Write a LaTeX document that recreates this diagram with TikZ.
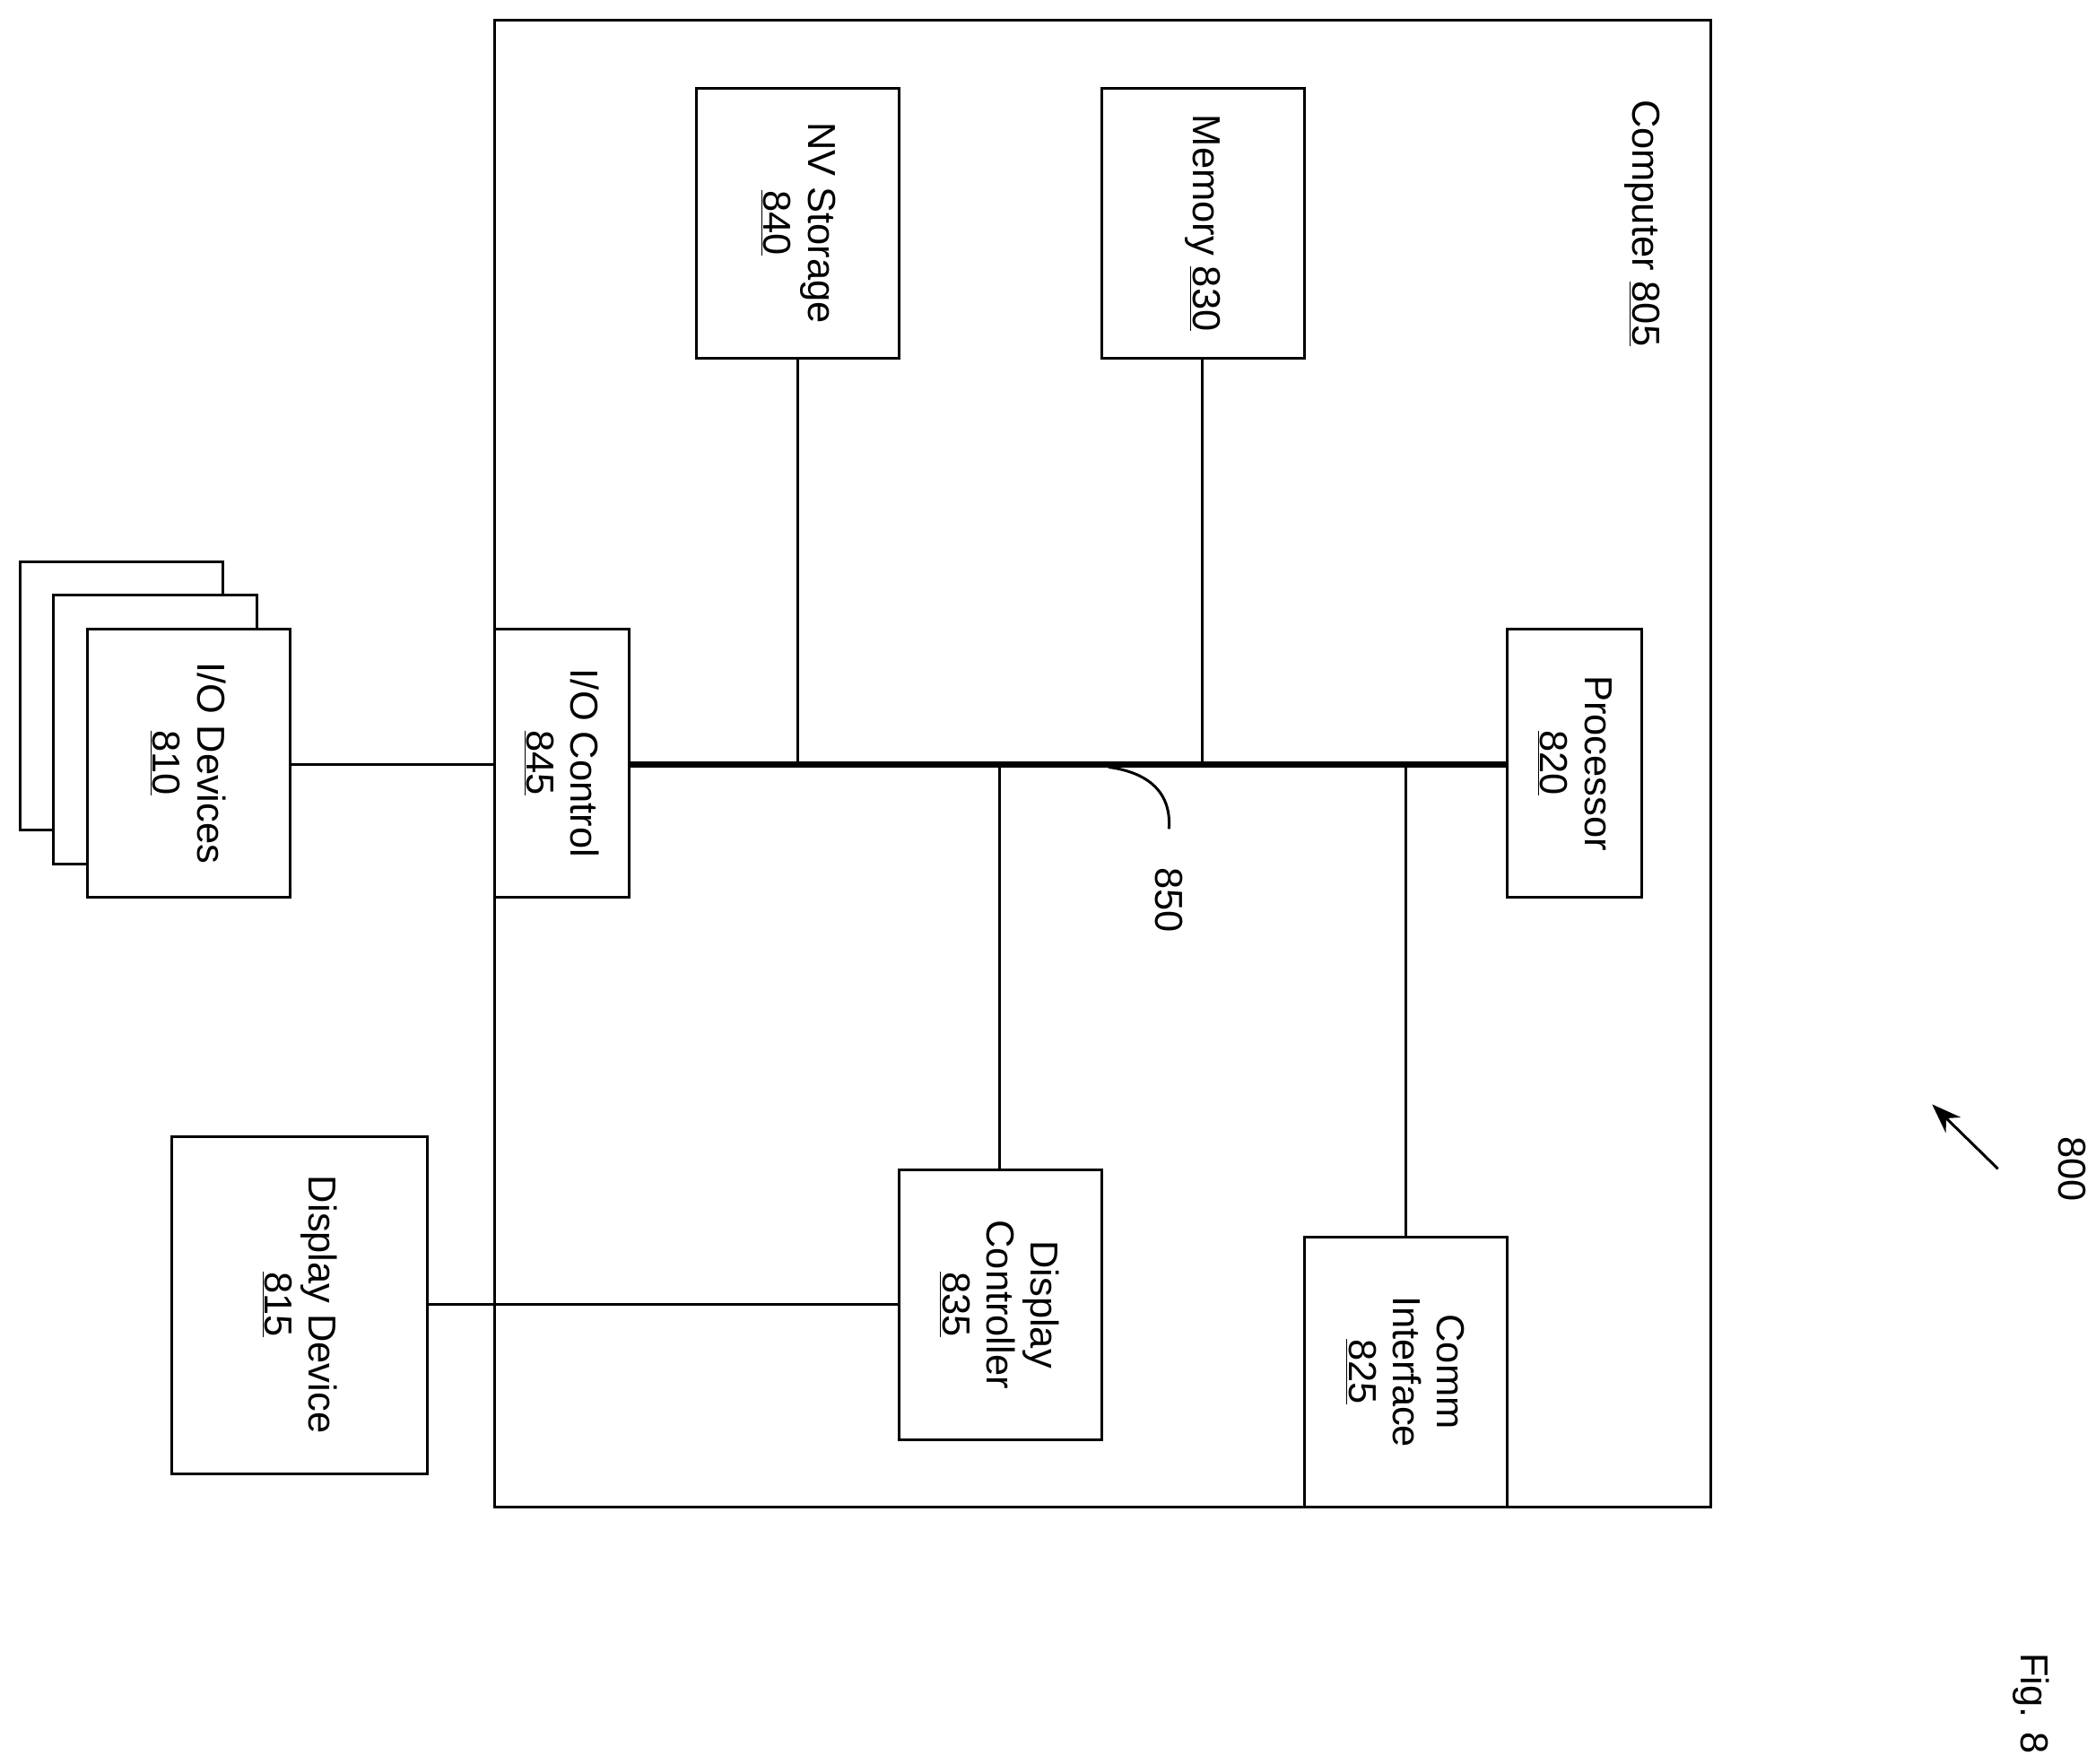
\documentclass[tikz,border=0pt]{standalone}
\usepackage{fontspec}
\setmainfont{Liberation Sans}
\usetikzlibrary{arrows.meta}
\begin{document}
\begin{tikzpicture}[x=1pt,y=-1pt,
  box/.style={draw,line width=2pt,fill=white},
  lbl/.style={rotate=-90,align=center,font=\fontsize{29}{33}\selectfont,inner sep=0pt},
  ln/.style={line width=2pt}]
\useasboundingbox (0,0) rectangle (1560,1313);
\draw[box] (368,15) rectangle (1273,1122);
\node[lbl] at (1222,166) {Computer \underline{805}};
\draw[box] (518,66) rectangle (669,267); \node[lbl] (nv) at (594,166) {NV Storage\\\underline{840}};
\draw[box] (820,66) rectangle (971,267); \node[lbl] (mem) at (895,166) {Memory \underline{830}};
\draw[box] (1122,468) rectangle (1222,668); \node[lbl] (proc) at (1172,568) {Processor\\\underline{820}};
\draw[box] (368,468) rectangle (468,668); \node[lbl] (ioc) at (418,568) {I/O Control\\\underline{845}};
\draw[box] (669,871) rectangle (820,1072); \node[lbl] (dc) at (744,971) {Display\\Controller\\\underline{835}};
\draw[box] (971,921) rectangle (1122,1122); \node[lbl] (ci) at (1046,1021) {Comm\\Interface\\\underline{825}};
\draw[box] (15,418) rectangle (166,618);
\draw[box] (40,443) rectangle (191,643);
\draw[box] (65,468) rectangle (216,668); \node[lbl] (iod) at (140,568) {I/O Devices\\\underline{810}};
\draw[box] (128,846) rectangle (318,1097); \node[lbl] (dd) at (223,971) {Display Device\\\underline{815}};
\coordinate (b1) at (468,569); \coordinate (b2) at (1122,569);
\draw[line width=4.5pt] (b1) -- (b2);
\draw[ln] (594,267) -- (594,569);
\draw[ln] (895,267) -- (895,569);
\draw[ln] (744,569) -- (744,871);
\draw[ln] (1046,569) -- (1046,921);
\draw[ln] (216,569) -- (368,569);
\draw[ln] (318,971) -- (669,971);
\draw[ln] (825,571) .. controls (855,575) and (872,590) .. (870,617);
\node[lbl] at (870,670) {850};
\draw[ln,-{Stealth[length=22pt,width=16pt]}] (1487,870) -- (1438,822);
\node[lbl] at (1542,870) {800};
\node[lbl] at (1512,1268) {Fig. 8};
\end{tikzpicture}
\end{document}
